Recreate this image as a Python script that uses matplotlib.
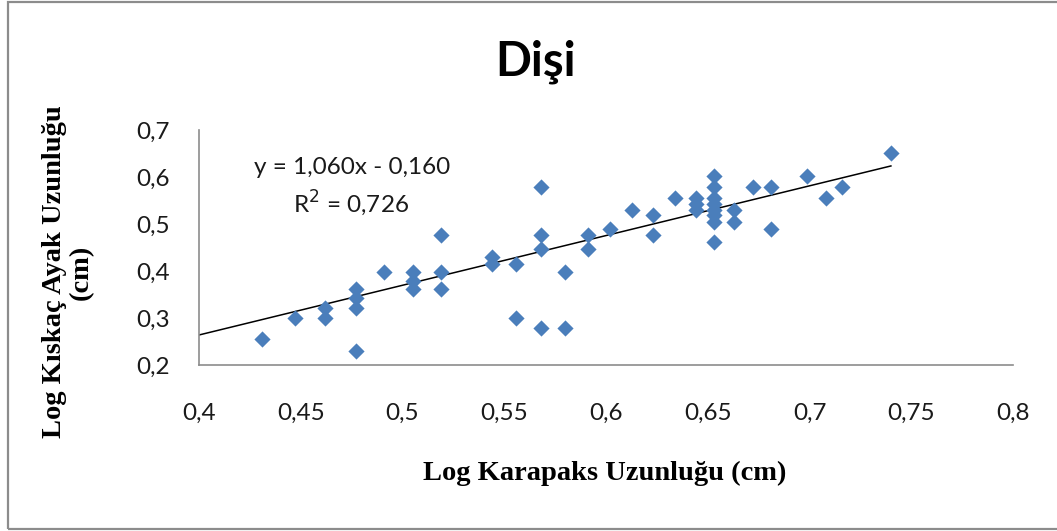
import matplotlib
matplotlib.use("Agg")
import matplotlib.pyplot as plt
from matplotlib.patches import Rectangle
import numpy as np

# ---- data ----
x_vals = [0.431, 0.447, 0.462, 0.462, 0.477, 0.477, 0.477, 0.477,
          0.491, 0.505, 0.505, 0.505, 0.519, 0.519, 0.519,
          0.544, 0.544, 0.556, 0.556, 0.568, 0.568, 0.568, 0.568,
          0.580, 0.580, 0.591, 0.591, 0.602, 0.613, 0.623, 0.623,
          0.634, 0.644, 0.644, 0.644,
          0.653, 0.653, 0.653, 0.653, 0.653, 0.653, 0.653, 0.653,
          0.663, 0.663, 0.672, 0.681, 0.681, 0.699, 0.708, 0.716, 0.740]
y_vals = [0.255, 0.301, 0.322, 0.301, 0.362, 0.342, 0.322, 0.230,
          0.398, 0.398, 0.380, 0.362, 0.477, 0.398, 0.362,
          0.431, 0.415, 0.415, 0.301, 0.580, 0.477, 0.447, 0.279,
          0.398, 0.279, 0.477, 0.447, 0.491, 0.531, 0.519, 0.477,
          0.556, 0.556, 0.544, 0.531,
          0.602, 0.580, 0.556, 0.544, 0.531, 0.519, 0.505, 0.462,
          0.531, 0.505, 0.580, 0.580, 0.491, 0.602, 0.556, 0.580, 0.653]
slope = 1.060
intercept = -0.160
x_ticks = [0.4, 0.45, 0.5, 0.55, 0.6, 0.65, 0.7, 0.75, 0.8]
y_ticks = [0.2, 0.3, 0.4, 0.5, 0.6, 0.7]
title = "Dişi"
x_label = "Log Karapaks Uzunluğu (cm)"
y_label = "Log Kıskaç Ayak Uzunluğu\n(cm)"
eq_text = "y = 1,060x - 0,160"
r2_text = "R$^2$ = 0,726"

def comma(v):
    return ("%g" % v).replace(".", ",")

W, H = 1057, 531
fig = plt.figure(figsize=(W / 100, H / 100), dpi=100)
fig.patch.set_facecolor("white")

# chart border
fig.patches.append(Rectangle((8 / W, 2 / H), (W + 10 - 8) / W, (529 - 2) / H,
                             transform=fig.transFigure, fill=False,
                             edgecolor="#8c8c8c", linewidth=1.6))

ax = fig.add_axes([199 / W, (H - 365) / H, (1013 - 199) / W, (365 - 130.5) / H])
ax.set_xlim(0.4, 0.8)
ax.set_ylim(0.2, 0.7)
ax.set_xticks(x_ticks)
ax.set_yticks(y_ticks)
TF = 17.5
ax.set_xticklabels([comma(v) for v in x_ticks], fontfamily="Lato", fontsize=TF)
ax.set_yticklabels([comma(v) for v in y_ticks], fontfamily="Lato", fontsize=TF)
ax.tick_params(axis="both", length=0, colors="#1a1a1a")
ax.tick_params(axis="y", pad=21)
ax.tick_params(axis="x", pad=27)
for s in ["top", "right"]:
    ax.spines[s].set_visible(False)
for s in ["left", "bottom"]:
    ax.spines[s].set_color("#8c8c8c")
    ax.spines[s].set_linewidth(1.2)

ax.scatter(x_vals, y_vals, marker="D", s=68, color="#4a7ebb", zorder=3,
           linewidths=0, clip_on=False)

xl = np.array([0.4, max(x_vals)])
ax.plot(xl, slope * xl + intercept, color="black", linewidth=1.1, zorder=2)

fig.text(352 / W, 1 - 168 / H, eq_text, fontfamily="Lato",
         fontsize=TF, ha="center", va="center", color="#1a1a1a")
fig.text(351 / W, 1 - 203 / H, r2_text, fontfamily="Lato",
         fontsize=TF, ha="center", va="center", color="#1a1a1a")

fig.text(536 / W, 1 - 62 / H, title, fontfamily="Lato", fontweight="bold",
         fontsize=34, ha="center", va="center", color="black")
fig.text(605 / W, 1 - 473 / H, x_label, fontfamily="Liberation Serif",
         fontweight="bold", fontsize=20.5, ha="center", va="center",
         color="black")
fig.text(68 / W, 1 - 272 / H, y_label, fontfamily="Liberation Serif",
         fontweight="bold", fontsize=20.5, ha="center", va="center",
         rotation=90, linespacing=1.1, color="black")

fig.savefig("out.png", dpi=100, facecolor="white")
